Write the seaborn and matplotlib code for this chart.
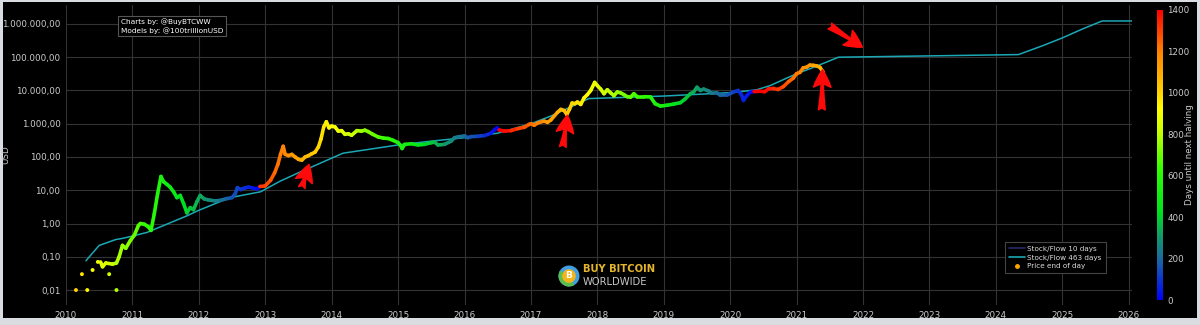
import numpy as np
import matplotlib
matplotlib.use("Agg")
import matplotlib.pyplot as plt
import seaborn as sns
from matplotlib.collections import LineCollection
from matplotlib.colors import LinearSegmentedColormap, Normalize
from matplotlib.cm import ScalarMappable
from matplotlib.lines import Line2D
from matplotlib.patches import Circle, Wedge, Rectangle
from matplotlib.ticker import FuncFormatter, FixedLocator

# --- data (decimal years, USD) ---------------------------------------------
halvings = [2012.91, 2016.52, 2020.36, 2024.30]

early_years = [2010.15, 2010.24, 2010.32, 2010.40, 2010.48, 2010.65, 2010.76]
early_price = [0.01, 0.03, 0.01, 0.04, 0.07, 0.03, 0.01]

price_years = [
    2010.52, 2010.55, 2010.60, 2010.70, 2010.76, 2010.80, 2010.85, 2010.90, 2010.97,
    2011.03, 2011.09, 2011.12, 2011.18, 2011.24, 2011.28, 2011.33, 2011.38, 2011.43,
    2011.47, 2011.52, 2011.57, 2011.62, 2011.67, 2011.72, 2011.77, 2011.82, 2011.87,
    2011.92, 2011.97, 2012.02, 2012.08, 2012.13, 2012.17, 2012.25, 2012.33, 2012.42,
    2012.50, 2012.55, 2012.58, 2012.63, 2012.68, 2012.75, 2012.82, 2012.88, 2012.92,
    2013.00, 2013.08, 2013.14, 2013.19, 2013.23, 2013.27, 2013.30, 2013.35, 2013.40,
    2013.45, 2013.50, 2013.55, 2013.60, 2013.65, 2013.70, 2013.75, 2013.80, 2013.84,
    2013.88, 2013.92, 2013.96, 2014.00, 2014.05, 2014.10, 2014.15, 2014.20, 2014.25,
    2014.30, 2014.38, 2014.45, 2014.50, 2014.55, 2014.62, 2014.70, 2014.78, 2014.85,
    2014.92, 2015.00, 2015.04, 2015.06, 2015.10, 2015.20, 2015.30, 2015.40, 2015.50,
    2015.55, 2015.60, 2015.70, 2015.80, 2015.85, 2015.90, 2016.00, 2016.05, 2016.10,
    2016.20, 2016.30, 2016.40, 2016.45, 2016.49, 2016.52, 2016.60, 2016.70, 2016.80,
    2016.90, 2016.97, 2017.00, 2017.05, 2017.10, 2017.20, 2017.25, 2017.30, 2017.40,
    2017.45, 2017.50, 2017.54, 2017.58, 2017.62, 2017.66, 2017.70, 2017.75, 2017.80,
    2017.85, 2017.90, 2017.96, 2018.00, 2018.05, 2018.10, 2018.15, 2018.20, 2018.25,
    2018.30, 2018.35, 2018.40, 2018.45, 2018.50, 2018.55, 2018.60, 2018.70, 2018.80,
    2018.87, 2018.95, 2019.05, 2019.15, 2019.25, 2019.32, 2019.40, 2019.45, 2019.50,
    2019.55, 2019.60, 2019.67, 2019.72, 2019.80, 2019.85, 2019.95, 2020.05, 2020.12,
    2020.17, 2020.20, 2020.25, 2020.30, 2020.36, 2020.45, 2020.52, 2020.58, 2020.65,
    2020.72, 2020.80, 2020.88, 2020.95, 2021.00, 2021.05, 2021.10, 2021.15, 2021.20,
    2021.25, 2021.30, 2021.35, 2021.40,
]
price_usd = [
    0.07, 0.05, 0.065, 0.06, 0.065, 0.10, 0.22, 0.18, 0.31,
    0.45, 0.87, 1.0, 0.95, 0.8, 0.62, 2.0, 8.0, 26.0,
    18.0, 15.0, 12.3, 9.0, 6.0, 7.0, 4.0, 2.1, 3.0,
    2.6, 4.5, 7.0, 5.5, 5.2, 5.0, 4.8, 5.0, 5.6,
    6.0, 8.0, 12.0, 10.5, 11.5, 12.5, 11.5, 11.0, 13.0,
    13.5, 20.0, 33.0, 60.0, 120.0, 210.0, 120.0, 110.0, 120.0,
    100.0, 85.0, 80.0, 100.0, 110.0, 125.0, 140.0, 200.0, 350.0,
    800.0, 1150.0, 750.0, 850.0, 800.0, 600.0, 620.0, 480.0, 500.0,
    450.0, 620.0, 600.0, 640.0, 580.0, 480.0, 400.0, 370.0, 360.0,
    320.0, 270.0, 220.0, 180.0, 240.0, 250.0, 230.0, 240.0, 270.0,
    280.0, 230.0, 240.0, 300.0, 380.0, 400.0, 430.0, 380.0, 410.0,
    420.0, 440.0, 520.0, 650.0, 750.0, 650.0, 600.0, 620.0, 710.0,
    780.0, 950.0, 1000.0, 900.0, 1050.0, 1200.0, 1100.0, 1300.0, 2200.0,
    2700.0, 2500.0, 1900.0, 2700.0, 4200.0, 4000.0, 4500.0, 3800.0, 6000.0,
    7500.0, 10000.0, 17500.0, 14000.0, 11000.0, 8000.0, 10500.0, 8500.0, 7000.0,
    9000.0, 8500.0, 7500.0, 6500.0, 6300.0, 8000.0, 6500.0, 6500.0, 6400.0,
    4000.0, 3400.0, 3600.0, 3900.0, 4300.0, 5500.0, 8000.0, 9000.0, 12500.0,
    10000.0, 11000.0, 9800.0, 8300.0, 8500.0, 7200.0, 7200.0, 9000.0, 10000.0,
    7500.0, 5000.0, 7000.0, 8800.0, 9300.0, 9500.0, 9200.0, 11300.0, 11500.0,
    10700.0, 13000.0, 18500.0, 23500.0, 32000.0, 35000.0, 48000.0, 50000.0, 58000.0,
    57000.0, 55000.0, 50000.0, 36000.0,
]

sf463_years = [
    2010.30, 2010.50, 2010.75, 2010.86, 2011.00, 2011.22, 2011.82, 2012.00, 2012.47,
    2012.93, 2013.22, 2013.52, 2014.17, 2015.00, 2015.50, 2016.00, 2016.50, 2017.00,
    2017.30, 2017.60, 2017.87, 2019.00, 2020.05, 2020.40, 2020.60, 2021.00, 2021.20,
    2021.40, 2021.63, 2024.34, 2024.70, 2025.00, 2025.30, 2025.60, 2026.05,
]
sf463_usd = [
    0.076, 0.22, 0.33, 0.36, 0.42, 0.54, 1.7, 2.5, 6.0,
    9.0, 18.6, 35.0, 130.0, 230.0, 300.0, 380.0, 520.0, 1000.0,
    1700.0, 3200.0, 5700.0, 6800.0, 8700.0, 10500.0, 14000.0, 32000.0, 45000.0,
    65000.0, 100000.0, 120000.0, 220000.0, 380000.0, 700000.0, 1230000.0, 1230000.0,
]

y_ticks = [0.01, 0.1, 1, 10, 100, 1000, 10000, 100000, 1000000]
x_ticks = list(range(2010, 2027))
cbar_ticks = [0, 200, 400, 600, 800, 1000, 1200, 1400]

# arrows: (tail, tip) in data coordinates
arrows = [
    ((2013.55, 12.0), (2013.66, 60.0)),
    ((2017.48, 200.0), (2017.55, 1800.0)),
    ((2021.38, 2600.0), (2021.39, 42000.0)),
    ((2021.50, 870000.0), (2021.99, 200000.0)),
]


def days_to_halving(years):
    out = []
    for y in years:
        nxt = min(h for h in halvings if h > y)
        out.append((nxt - y) * 365.25)
    return np.array(out)


halving_cmap = LinearSegmentedColormap.from_list(
    "halving",
    [(0.0, "#0000ff"), (0.14, "#1a6aa0"), (0.22, "#129a6a"), (0.30, "#00e020"),
     (0.45, "#30ff00"), (0.58, "#c8ff00"), (0.66, "#ffff00"), (0.72, "#ffd000"),
     (0.86, "#ff8000"), (1.0, "#ff0000")])
norm = Normalize(0, 1400)

sns.set_theme(style="dark", rc={
    "axes.facecolor": "black",
    "figure.facecolor": "#d9dde2",
    "text.color": "#d0d0d0",
    "xtick.color": "#cccccc",
    "ytick.color": "#cccccc",
    "axes.labelcolor": "#cccccc",
})
plt.rcParams["font.family"] = ["DejaVu Sans"]

fig = plt.figure(figsize=(12, 3.25), dpi=100)
fig.patches.append(Rectangle((3 / 1200, 7 / 325), 1194 / 1200, 316 / 325,
                             transform=fig.transFigure, fc="black", ec="none", zorder=-5))
ax = fig.add_axes([66 / 1200, 20 / 325, 1066 / 1200, 300 / 325])
ax.set_facecolor("black")

# stock/flow 463-day line
sns.lineplot(x=sf463_years, y=sf463_usd, ax=ax, color="#1aa8b6", lw=1.1, zorder=3,
             legend=False)

# price, coloured by days until next halving
px = np.array(price_years)
py = np.array(price_usd)
pts = np.column_stack([px, py]).reshape(-1, 1, 2)
segs = np.concatenate([pts[:-1], pts[1:]], axis=1)
lc = LineCollection(segs, cmap=halving_cmap, norm=norm, linewidths=2.6,
                    capstyle="round", joinstyle="round", zorder=4)
lc.set_array(days_to_halving(px[:-1]))
ax.add_collection(lc)

early_days = days_to_halving(early_years)
sns.scatterplot(x=early_years, y=early_price, hue=early_days, palette=halving_cmap,
                hue_norm=norm, s=8, edgecolor="none", ax=ax, legend=False, zorder=4)

ax.set_yscale("log")
ax.set_xlim(2010, 2026.05)
ax.set_ylim(10 ** -2.45, 10 ** 6.57)
ax.yaxis.set_major_locator(FixedLocator(y_ticks))
ax.yaxis.set_minor_locator(FixedLocator([]))
ax.set_xticks(x_ticks)


def euro_fmt(v, pos):
    s = f"{v:,.2f}"
    return s.replace(",", "X").replace(".", ",").replace("X", ".")


ax.yaxis.set_major_formatter(FuncFormatter(euro_fmt))
ax.tick_params(axis="both", labelsize=6.3, length=0, pad=4)
ax.grid(True, color="#333333", lw=0.8)
for sp in ax.spines.values():
    sp.set_visible(False)
ax.set_ylabel("USD", fontsize=6.3)
ax.yaxis.set_label_coords(-0.052, 0.5)
ax.set_xlabel("")

for tail, tip in arrows:
    ax.annotate("", xy=tip, xytext=tail, zorder=6,
                arrowprops=dict(arrowstyle="fancy,head_length=0.9,head_width=0.9,tail_width=0.35",
                                fc="#ff0a0a", ec="#ff0a0a", mutation_scale=14,
                                shrinkA=0, shrinkB=0))

# legend
handles = [
    Line2D([], [], color="#2a2a66", lw=1.2, label="Stock/Flow 10 days"),
    Line2D([], [], color="#1aa8b6", lw=1.2, label="Stock/Flow 463 days"),
    Line2D([], [], color="#ffa500", marker="o", ms=2.5, lw=0, label="Price end of day"),
]
leg = ax.legend(handles=handles, loc="lower right", bbox_to_anchor=(0.979, 0.093),
                fontsize=5.2, facecolor="black", edgecolor="#444444", labelcolor="#dddddd",
                framealpha=1, fancybox=False, handlelength=2.2, handletextpad=0.3,
                borderpad=0.6, labelspacing=0.35)
leg.get_frame().set_linewidth(0.8)

# credits box
fig.text(121 / 1200, 1 - 26 / 325, "Charts by: @BuyBTCWW\nModels by: @100trillionUSD",
         fontsize=5.3, color="white", va="center", ha="left", linespacing=1.3,
         bbox=dict(boxstyle="square,pad=0.35", fc="black", ec="#555555", lw=0.8))

# logo
tr = fig.dpi_scale_trans
cx, cy = 5.69, (325 - 276) / 100
fig.patches.append(Circle((cx, cy), 0.105, transform=tr, fc="#3f9fe0", ec="none", zorder=5))
fig.patches.append(Wedge((cx, cy), 0.105, 150, 300, transform=tr, fc="#5cbd4f", ec="none", zorder=5))
fig.patches.append(Circle((cx, cy), 0.068, transform=tr, fc="#f2b51c", ec="none", zorder=6))
fig.text(cx / 12, cy / 3.25, "B", transform=fig.transFigure, fontsize=6.5, color="white",
         ha="center", va="center", weight="bold", zorder=7)
fig.text(583 / 1200, 1 - 269 / 325, "BUY BITCOIN", fontsize=7.2, color="#e3b52a",
         weight="bold", va="center", ha="left")
fig.text(583 / 1200, 1 - 282 / 325, "WORLDWIDE", fontsize=7.2, color="#c8c8c8",
         va="center", ha="left")

# colour bar
cax = fig.add_axes([1157 / 1200, 25 / 325, 6 / 1200, 290 / 325])
cb = fig.colorbar(ScalarMappable(norm=norm, cmap=halving_cmap), cax=cax, ticks=cbar_ticks)
cb.outline.set_visible(False)
cax.tick_params(labelsize=6.3, length=0, pad=3, colors="#cccccc")
cb.set_label("Days until next halving", fontsize=6.3, color="#cccccc")
cax.yaxis.set_label_coords(4.7, 0.5)

fig.savefig("out.png", dpi=100, facecolor=fig.get_facecolor())
